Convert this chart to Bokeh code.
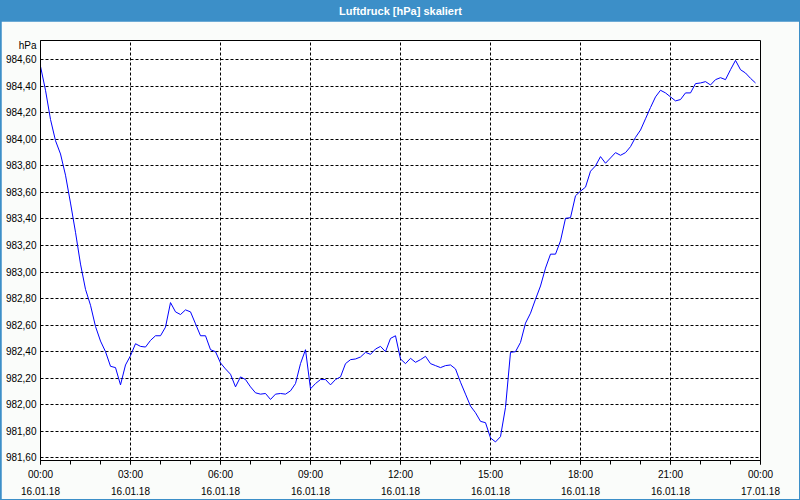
import pandas as pd
from bokeh.plotting import figure
from bokeh.layouts import column
from bokeh.models import (FixedTicker, DatetimeTickFormatter, CustomJSTickFormatter,
                          DatetimeAxis, Range1d)
from bokeh.core.properties import value
from bokeh.embed import file_html
from bokeh.resources import INLINE

# ---------------- data ----------------
title_text = "Luftdruck [hPa] skaliert"
unit_text = "hPa"
start_time = "2018-01-16 00:00"
end_time = "2018-01-17 00:00"
step = "10min"
pressure = [
    984.55, 984.37, 984.15, 983.99, 983.89, 983.73, 983.52, 983.30, 983.06, 982.87,
    982.75, 982.59, 982.48, 982.40, 982.29, 982.28, 982.15, 982.30, 982.37, 982.46,
    982.44, 982.435, 982.485, 982.52, 982.52, 982.585, 982.77, 982.70, 982.68, 982.715,
    982.70, 982.61, 982.52, 982.52, 982.415, 982.40, 982.315, 982.27, 982.23, 982.135,
    982.21, 982.19, 982.135, 982.09, 982.08, 982.085, 982.04, 982.08, 982.085, 982.08,
    982.105, 982.16, 982.31, 982.415, 982.12, 982.16, 982.19, 982.19, 982.15, 982.19,
    982.21, 982.31, 982.34, 982.345, 982.36, 982.395, 982.38, 982.42, 982.44, 982.40,
    982.50, 982.52, 982.345, 982.31, 982.35, 982.32, 982.34, 982.365, 982.31, 982.295,
    982.28, 982.295, 982.30, 982.27, 982.17, 982.08, 981.99, 981.94, 981.875, 981.865,
    981.75, 981.72, 981.76, 981.98, 982.395, 982.40, 982.47, 982.615, 982.69, 982.795,
    982.895, 983.03, 983.135, 983.135, 983.235, 983.405, 983.41, 983.575, 983.61, 983.64,
    983.76, 983.80, 983.87, 983.82, 983.86, 983.90, 983.88, 983.90, 983.945, 984.015,
    984.07, 984.155, 984.24, 984.32, 984.37, 984.35, 984.32, 984.29, 984.30, 984.35,
    984.35, 984.42, 984.425, 984.435, 984.41, 984.45, 984.465, 984.45, 984.525, 984.595,
    984.525, 984.50, 984.46, 984.425,
]
y_ticks = [981.6, 981.8, 982.0, 982.2, 982.4, 982.6, 982.8, 983.0, 983.2,
           983.4, 983.6, 983.8, 984.0, 984.2, 984.4, 984.6]
major_tick_times = ["2018-01-16 00:00", "2018-01-16 03:00", "2018-01-16 06:00",
                    "2018-01-16 09:00", "2018-01-16 12:00", "2018-01-16 15:00",
                    "2018-01-16 18:00", "2018-01-16 21:00", "2018-01-17 00:00"]

# ---------------- layout constants ----------------
y_min, y_max = 981.58, 984.745
unit_label_pos = 984.708   # vertical place of the "hPa" unit text

# ---------------- build ----------------
times = pd.date_range(start_time, periods=len(pressure), freq=step)
t0 = pd.Timestamp(start_time)
t1 = pd.Timestamp(end_time)
to_ms = lambda t: pd.Timestamp(t).value / 1e6
major_ms = [to_ms(t) for t in major_tick_times]
minor_ms = [to_ms(t) for t in pd.date_range(start_time, end_time, freq="1h")]

FONT = "Liberation Sans"
BLUE = "#3c8fc8"

# title bar
tb = figure(width=800, height=21, x_range=(0, 800), y_range=(0, 21),
            toolbar_location=None, output_backend="svg",
            min_border=0, outline_line_color=None)
tb.axis.visible = False
tb.grid.visible = False
tb.background_fill_color = BLUE
tb.border_fill_color = BLUE
tb.text(x=[400], y=[10.5], text=[title_text], text_color="white",
        text_font=value(FONT), text_font_size="11px", text_font_style="bold",
        text_align="center", text_baseline="middle")

# main chart
p = figure(width=798, height=478, x_axis_type="datetime",
           x_range=Range1d(t0, t1), y_range=Range1d(y_min, y_max),
           toolbar_location=None, output_backend="svg",
           min_border_left=39, min_border_right=39, min_border_top=19,
           min_border_bottom=39, margin=(0, 1, 1, 1))
p.background_fill_color = "white"
p.border_fill_color = "#fafcfa"
p.outline_line_color = "black"
p.outline_line_width = 1

p.line(times, pressure, line_color="#0000ff", line_width=1)

same = "%H:%M"
xfmt = DatetimeTickFormatter(microseconds=same, milliseconds=same, seconds=same,
                             minsec=same, minutes=same, hourmin=same, hours=same,
                             days=same, months=same, years=same)
xa = p.xaxis[0]
xa.ticker = FixedTicker(ticks=major_ms, minor_ticks=minor_ms)
xa.formatter = xfmt
xa.axis_line_color = "black"
xa.major_tick_line_color = "black"
xa.minor_tick_line_color = "black"
xa.major_tick_in = 0
xa.major_tick_out = 4
xa.minor_tick_in = 0
xa.minor_tick_out = 4
xa.major_label_standoff = 4
xa.major_label_text_font = FONT
xa.major_label_text_font_size = "10px"
xa.major_label_text_color = "black"

dfmt = "%d.%m.%y"
xfmt2 = DatetimeTickFormatter(microseconds=dfmt, milliseconds=dfmt, seconds=dfmt,
                              minsec=dfmt, minutes=dfmt, hourmin=dfmt, hours=dfmt,
                              days=dfmt, months=dfmt, years=dfmt)
xa2 = DatetimeAxis(ticker=FixedTicker(ticks=major_ms), formatter=xfmt2)
xa2.axis_line_color = None
xa2.major_tick_line_color = None
xa2.minor_tick_line_color = None
xa2.major_tick_in = 0
xa2.major_tick_out = 0
xa2.minor_tick_in = 0
xa2.minor_tick_out = 0
xa2.major_label_standoff = 4
xa2.major_label_text_font = FONT
xa2.major_label_text_font_size = "10px"
xa2.major_label_text_color = "black"
p.add_layout(xa2, "below")

ya = p.yaxis[0]
ya.ticker = FixedTicker(ticks=y_ticks + [unit_label_pos])
ya.formatter = CustomJSTickFormatter(
    args=dict(unit=unit_text, upos=unit_label_pos),
    code="if (Math.abs(tick - upos) < 1e-6) { return unit; } "
         "return tick.toFixed(2).replace('.', ',');")
ya.axis_line_color = "black"
ya.major_tick_in = 0
ya.major_tick_out = 0
ya.minor_tick_line_color = None
ya.major_label_standoff = 4
ya.major_label_text_font = FONT
ya.major_label_text_font_size = "10px"
ya.major_label_text_color = "black"

p.xgrid.ticker = FixedTicker(ticks=major_ms)
p.ygrid.ticker = FixedTicker(ticks=y_ticks)
for g in (p.xgrid[0], p.ygrid[0]):
    g.grid_line_color = "black"
    g.grid_line_dash = "3 2"
    g.grid_line_width = 1
    g.grid_line_alpha = 1.0

layout = column(tb, p, spacing=0, styles={"background-color": BLUE})

open("out.html", "w").write(file_html(layout, INLINE))
